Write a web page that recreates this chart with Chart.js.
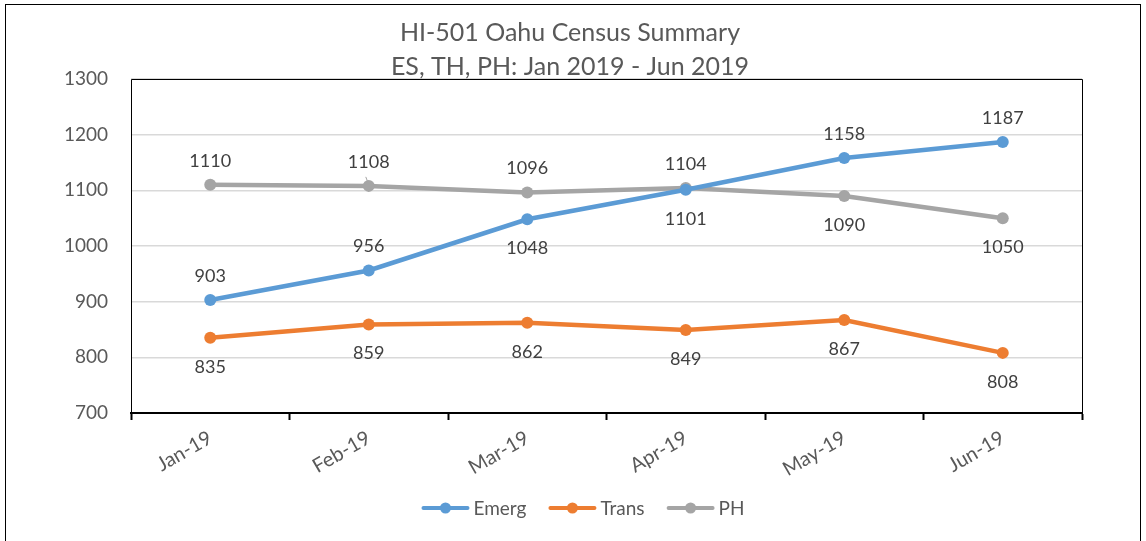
<!DOCTYPE html>
<html>
<head>
<meta charset="utf-8">
<script src="https://cdn.jsdelivr.net/npm/chart.js@4.4.0/dist/chart.umd.min.js"></script>
<style>
html,body{margin:0;padding:0;background:#fff}
#wrap{width:1146px;height:541px;position:relative}
</style>
</head>
<body>
<div id="wrap"><canvas id="chart" width="1146" height="541"></canvas></div>
<script>
const months = ["Jan-19","Feb-19","Mar-19","Apr-19","May-19","Jun-19"]
const emerg = [903,956,1048,1101,1158,1187]
const trans = [835,859,862,849,867,808]
const ph = [1110,1108,1096,1104,1090,1050]
const titleLines = ["HI-501 Oahu Census Summary","ES, TH, PH: Jan 2019 - Jun 2019"]

// where each data label goes, per series
const labelSide = [
["up","up","down","down","up","up"],
["down","down","down","down","down","down"],
["up","up","up","up","down","down"]
]

const FONT = "Lato, 'Open Sans', sans-serif"
const GREY = "#595959"

const frame = {
id:"frame",
beforeDraw(chart){
const c = chart.ctx
c.save()
c.fillStyle = "#fff"
c.fillRect(0,0,chart.width,chart.height)
c.strokeStyle = "#000"
c.lineWidth = 1
c.strokeRect(5.5,4.5,1135,540)
c.restore()
},
afterDraw(chart){
const c = chart.ctx
const a = chart.chartArea
c.save()
c.strokeStyle = "#000"
c.lineWidth = 1
c.beginPath()
c.moveTo(a.left+0.5,a.bottom)
c.lineTo(a.left+0.5,a.top+0.5)
c.lineTo(a.right+0.5,a.top+0.5)
c.lineTo(a.right+0.5,a.bottom)
c.stroke()

// title
c.fillStyle = GREY
c.font = "25px " + FONT
c.textAlign = "center"
c.textBaseline = "middle"
c.fillText(titleLines[0],570,33)
c.fillText(titleLines[1],570,67)

// legend
c.font = "19px " + FONT
c.textAlign = "left"
const ds = chart.data.datasets
const lineLen = 48, gapTxt = 4, gapItem = 22
let total = 0
ds.forEach((d,i) => {
total += lineLen + gapTxt + c.measureText(d.label).width
if(i < ds.length-1) total += gapItem
})
let x = 583 - total/2
const y = 508
ds.forEach(d => {
c.strokeStyle = d.borderColor
c.lineWidth = 4
c.lineCap = "round"
c.beginPath()
c.moveTo(x+2,y)
c.lineTo(x+lineLen-2,y)
c.stroke()
c.fillStyle = d.borderColor
c.beginPath()
c.arc(x+lineLen/2,y,5.5,0,Math.PI*2)
c.fill()
c.fillStyle = GREY
c.fillText(d.label,x+lineLen+gapTxt,y+1)
x += lineLen + gapTxt + c.measureText(d.label).width + gapItem
})
c.restore()
}
}

const dataLabels = {
id:"dataLabels",
afterDatasetsDraw(chart){
const c = chart.ctx
c.save()
c.font = "18px " + FONT
c.fillStyle = "#404040"
c.textAlign = "center"
c.textBaseline = "middle"
chart.data.datasets.forEach((d,i) => {
chart.getDatasetMeta(i).data.forEach((pt,j) => {
const dy = labelSide[i][j] == "up" ? -24 : 29
c.fillText(String(d.data[j]),pt.x,pt.y+dy)
})
})
// small leader line on the Feb PH label, as in the original
const p = chart.getDatasetMeta(2).data[1]
c.strokeStyle = "#A5A5A5"
c.lineWidth = 1
c.beginPath()
c.moveTo(p.x-3,p.y-9)
c.lineTo(p.x-1,p.y-4)
c.stroke()
c.restore()
}
}

function series(label,data,color){
return {
label:label,
data:data,
borderColor:color,
backgroundColor:color,
borderWidth:4.5,
pointRadius:6,
pointHoverRadius:6,
pointBorderWidth:0,
tension:0
}
}

new Chart(document.getElementById("chart"),{
type:"line",
data:{
labels:months,
datasets:[
series("Emerg",emerg,"#5B9BD5"),
series("Trans",trans,"#ED7D31"),
series("PH",ph,"#A5A5A5")
]
},
options:{
responsive:false,
animation:false,
layout:{padding:{top:79,right:64,bottom:0,left:0}},
plugins:{legend:{display:false},title:{display:false},tooltip:{enabled:false}},
scales:{
x:{
offset:true,
grid:{offset:true,drawOnChartArea:false,drawTicks:true,tickLength:7,tickColor:"#000",tickWidth:2},
border:{color:"#000",width:2},
ticks:{color:GREY,font:{family:FONT,size:20},minRotation:30,maxRotation:30,padding:6},
afterFit(s){s.height = 128}
},
y:{
min:700,max:1300,
ticks:{stepSize:100,color:GREY,font:{family:FONT,size:19},padding:23,callback:v => String(v)},
grid:{color:"#D9D9D9",lineWidth:1.5,drawTicks:false},
border:{display:false},
afterFit(s){s.width = 131}
}
}
},
plugins:[frame,dataLabels]
})
</script>
</body>
</html>
